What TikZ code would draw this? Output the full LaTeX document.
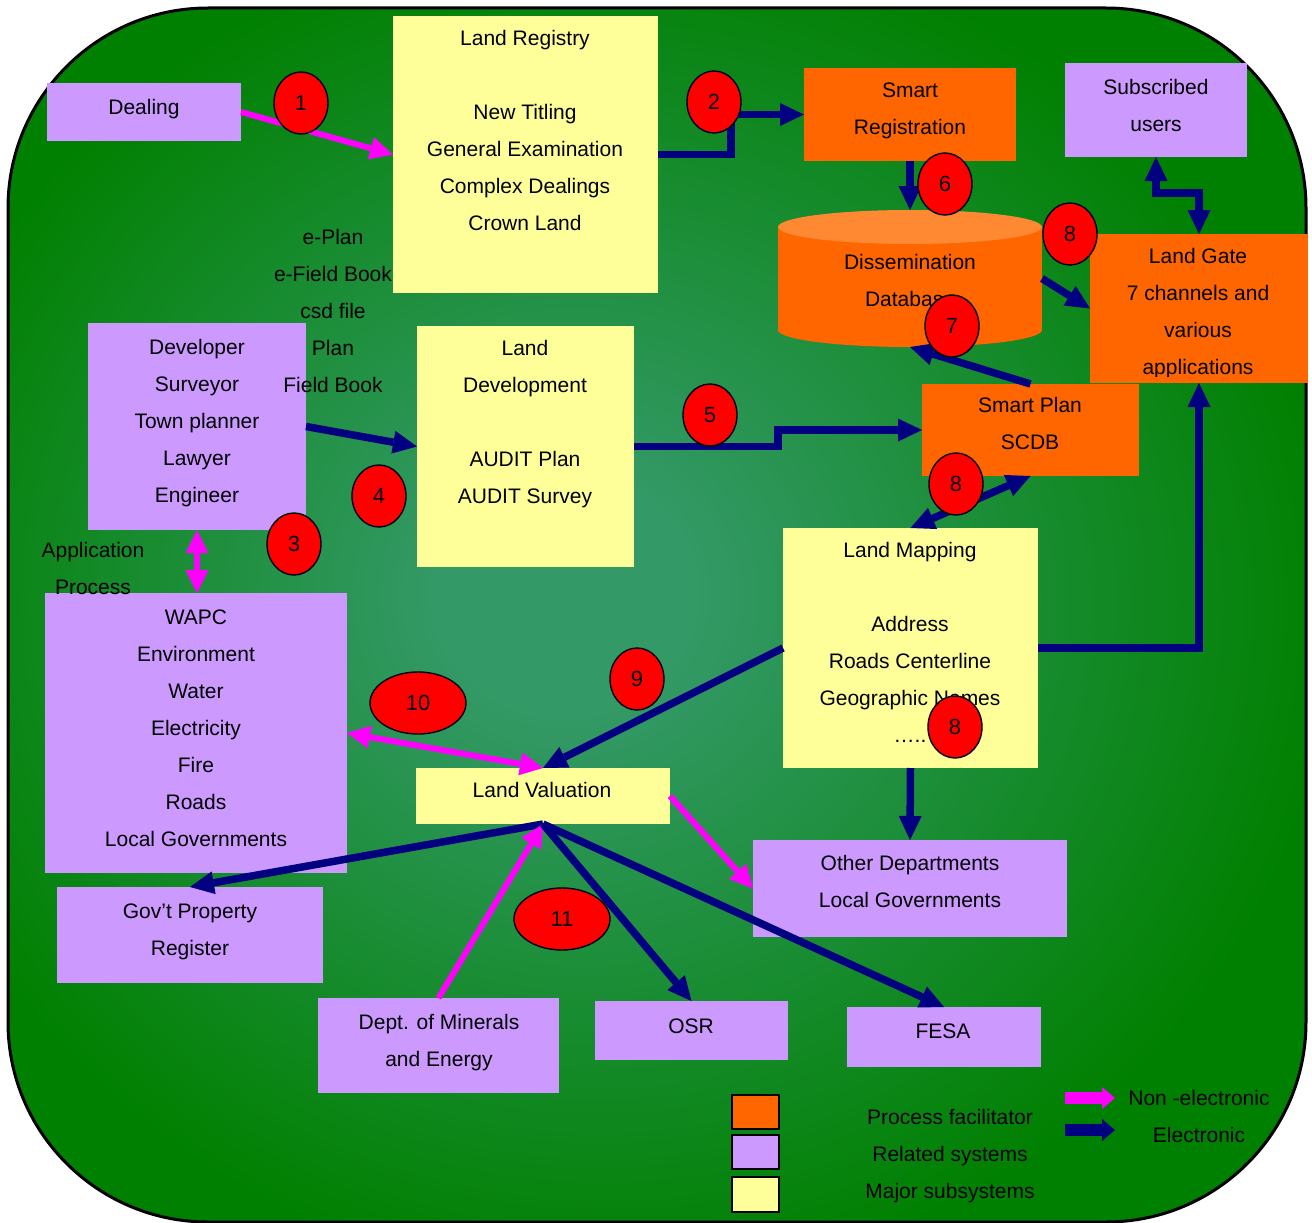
\documentclass[tikz,border=0pt]{standalone}
\usepackage{fontspec}
\setmainfont{Liberation Sans}
\usetikzlibrary{arrows.meta,calc,shapes.geometric}

\definecolor{relsys}{HTML}{CC99FF}
\definecolor{majsub}{HTML}{FFFF99}
\definecolor{procfac}{HTML}{FF6600}
\definecolor{cyltop}{HTML}{FF8833}
\definecolor{elecc}{HTML}{000080}
\definecolor{nonelecc}{HTML}{FF00FF}
\definecolor{bgin}{HTML}{339966}
\definecolor{bgout}{HTML}{008000}

% soft green glow behind the whole chart
\pgfdeclareradialshading{greenglow}{\pgfpoint{-4bp}{1bp}}{%
  color(0bp)=(bgin); color(5bp)=(bgin); color(28bp)=(bgout); color(50bp)=(bgout)}

\tikzset{
  navytip/.tip={Triangle[length=24pt,width=23pt,line width=0pt]},
  pinktip/.tip={Triangle[length=23pt,width=23pt,line width=0pt]},
  legtip/.tip={Triangle[length=13pt,width=22pt,line width=0pt]},
}

\begin{document}
\begin{tikzpicture}[x=1pt,y=-1pt,
  box/.style={rectangle, inner sep=0pt, outer sep=0pt},
  relbox/.style={box, fill=relsys},
  majbox/.style={box, fill=majsub},
  procbox/.style={box, fill=procfac},
  txt/.style={anchor=north, align=center, inner sep=0pt, font=\fontsize{21}{37}\selectfont},
  num/.style={ellipse, draw=black, line width=1.4pt, fill=red, inner sep=0pt,
    minimum width=54, minimum height=62, font=\fontsize{22}{24}\selectfont},
  widenum/.style={num, minimum width=96},
  elec/.style={draw=elecc, line width=7.5pt},
  nonelec/.style={draw=nonelecc, line width=6pt},
  swatch/.style={box, draw=black, line width=2pt, minimum width=47},
]
\useasboundingbox (0,0) rectangle (1312,1223);

% background panel
\shadedraw[shading=greenglow, draw=black, line width=3pt, rounded corners=200pt]
  (8,8) rectangle (1306,1222);

% boxes
\node[relbox, minimum width=194, minimum height=58]  (dealing)   at (144,112) {};
\node[majbox, minimum width=265, minimum height=277] (landreg)   at (525.5,154.5) {};
\node[procbox, minimum width=212, minimum height=93] (smartreg)  at (910,114.5) {};
\node[relbox, minimum width=182, minimum height=94]  (subs)      at (1156,110) {};
\node[procbox, minimum width=218, minimum height=149] (landgate) at (1199,308.5) {};
\node[procbox, minimum width=217, minimum height=92] (smartplan) at (1030.5,430) {};
\node[majbox, minimum width=217, minimum height=241] (landdev)   at (525.5,446.5) {};
\node[relbox, minimum width=218, minimum height=207] (developer) at (197,426.5) {};
\node[relbox, minimum width=302, minimum height=280] (wapc)      at (196,733) {};
\node[majbox, minimum width=255, minimum height=240] (landmap)   at (910.5,648) {};
\node[majbox, minimum width=254, minimum height=56]  (landval)   at (543,796) {};
\node[relbox, minimum width=314, minimum height=97]  (otherdep)  at (910,888.5) {};
\node[relbox, minimum width=266, minimum height=96]  (govprop)   at (190,935) {};
\node[relbox, minimum width=241, minimum height=95]  (minerals)  at (438.5,1045.5) {};
\node[relbox, minimum width=193, minimum height=59]  (osr)       at (691.5,1030.5) {};
\node[relbox, minimum width=194, minimum height=60]  (fesa)      at (944,1037) {};

% dissemination database cylinder
\fill[procfac] (910,330) ellipse [x radius=132, y radius=17];
\fill[procfac] (778,227) rectangle (1042,330);
\fill[cyltop] (910,227) ellipse [x radius=132, y radius=17];
\node[box, minimum width=264, minimum height=137] (ddb) at (910,278.5) {};

% texts
\node[txt] (dealing-t)   at (144,99.5)   {Dealing};
\node[txt] (landreg-t)   at (525,30.5)   {Land Registry\\ \\New Titling\\General Examination\\Complex Dealings\\Crown Land};
\node[txt] (smartreg-t)  at (910,82.5)   {Smart\\Registration};
\node[txt] (subs-t)      at (1156,79.5)  {Subscribed\\users};
\node[txt] (ddb-t)       at (910,254.5)  {Dissemination\\Database};
\begin{scope}
  \clip (1090,234) rectangle (1308,376);
  \node[txt] (landgate-t) at (1198,248.5) {Land Gate\\7 channels and\\various\\applications};
\end{scope}
\node[txt] (smartplan-t) at (1030,397.5) {Smart Plan\\SCDB};
\node[txt] (eplan-t)     at (333,229.5)  {e-Plan\\e-Field Book\\csd file\\Plan\\Field Book};
\node[txt] (landdev-t)   at (525,340.5)  {Land\\Development\\ \\AUDIT Plan\\AUDIT Survey};
\node[txt] (developer-t) at (197,339.5)  {Developer\\Surveyor\\Town planner\\Lawyer\\Engineer};
\node[txt] (appproc-t)   at (93,542.5)   {Application\\Process};
\node[txt] (wapc-t)      at (196,609.5)  {WAPC\\Environment\\Water\\Electricity\\Fire\\Roads\\Local Governments};
\node[txt] (landmap-t)   at (910,542.5)  {Land Mapping\\ \\Address\\Roads Centerline\\Geographic Names\\…..};
\node[txt] (landval-t)   at (542,782.5)  {Land Valuation};
\node[txt] (otherdep-t)  at (910,855.5)  {Other Departments\\Local Governments};
\node[txt] (govprop-t)   at (190,903.5)  {Gov’t Property\\Register};
\node[txt] (minerals-t)  at (439,1014.5) {Dept. of Minerals\\and Energy};
\node[txt] (osr-t)       at (691,1018.5) {OSR};
\node[txt] (fesa-t)      at (943,1023.5) {FESA};

% connectors
\draw[nonelec, -pinktip] (dealing.east) -- (landreg.west);
\draw[elec, -navytip] (landreg.east) -- ++(73,0) |- (smartreg.west);
\draw[elec, -navytip] (smartreg.south) -- (ddb.north);
\draw[elec, -navytip] (ddb.east) -- (landgate.west);
\draw[elec, navytip-navytip] (subs.south) -- ++(0,36) -| (landgate.north);
\draw[elec, -navytip] (smartplan.north) -- (ddb.south);
\draw[elec, -navytip] (landdev.east) -- ++(144,0) |- (smartplan.west);
\draw[elec, -navytip] (developer.east) -- (landdev.west);
\draw[nonelec, pinktip-pinktip] (developer.south) -- (developer.south |- wapc.north);
\draw[elec, navytip-navytip] (smartplan.south) -- (landmap.north);
\draw[elec, -navytip] (landmap.east) -| (landgate.south);
\draw[elec, -navytip] (landmap.west) -- (landval.north);
\draw[nonelec, pinktip-pinktip] (wapc.east) -- (landval.north);
\draw[nonelec, -pinktip] (landval.east) -- (otherdep.west);
\draw[elec, -navytip] (landmap.south) -- (otherdep.north);
\draw[elec, -navytip] (landval.south) -- (govprop.north);
\draw[nonelec, -pinktip] (minerals.north) -- (landval.south);
\draw[elec, -navytip] (landval.south) -- (osr.north);
\draw[elec, -navytip] (landval.south) -- (fesa.north);

% step numbers
\node[num] (n1)  at (301,103) {1};
\node[num] (n2)  at (714,102) {2};
\node[num] (n6)  at (945,184) {6};
\node[num] (n8a) at (1070,234) {8};
\node[num] (n7)  at (952,326) {7};
\node[num] (n5)  at (710,415) {5};
\node[num] (n8b) at (956,484) {8};
\node[num] (n4)  at (379,496) {4};
\node[num] (n3)  at (294,544) {3};
\node[widenum] (n10) at (418,703) {10};
\node[num] (n9)  at (637,679) {9};
\node[num] (n8c) at (955,727) {8};
\node[widenum] (n11) at (562,919) {11};

% legend
\node[swatch, fill=procfac, minimum height=34] (sw1) at (755.5,1112) {};
\node[swatch, fill=relsys,  minimum height=34] (sw2) at (755.5,1152) {};
\node[swatch, fill=majsub,  minimum height=35] (sw3) at (755.5,1194.5) {};
\node[txt] (swatch-t) at (950,1109.5) {Process facilitator\\Related systems\\Major subsystems};
\coordinate (lp1) at (1065,1098);
\coordinate (lp2) at (1115,1098);
\coordinate (le1) at (1065,1130);
\coordinate (le2) at (1115,1130);
\draw[draw=nonelecc, line width=12pt, -legtip] (lp1) -- (lp2);
\draw[draw=elecc, line width=12pt, -legtip] (le1) -- (le2);
\node[txt] (arrows-t) at (1199,1090.5) {Non -electronic\\Electronic};
\end{tikzpicture}
\end{document}
